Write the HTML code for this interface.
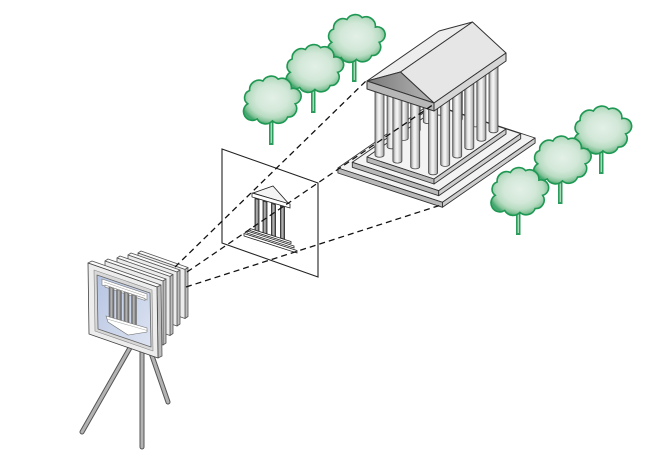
<!DOCTYPE html>
<html><head><meta charset="utf-8"><style>
html,body{margin:0;padding:0;background:#fff;}
svg{display:block;}
</style></head><body>
<svg width="653" height="476" viewBox="0 0 653 476" xmlns="http://www.w3.org/2000/svg">
<defs>
<radialGradient id="tg" cx="50%" cy="46%" r="55%">
<stop offset="0" stop-color="#e3f0e6"/><stop offset="0.5" stop-color="#d3e8d9"/><stop offset="0.75" stop-color="#b8dcc2"/><stop offset="0.9" stop-color="#86c49a"/><stop offset="1" stop-color="#45a870"/>
</radialGradient>
<linearGradient id="colg" x1="0" y1="0" x2="1" y2="0">
<stop offset="0" stop-color="#8a8a8a"/><stop offset="0.3" stop-color="#e6e6e6"/><stop offset="0.5" stop-color="#f6f6f6"/><stop offset="0.8" stop-color="#c2c2c2"/><stop offset="1" stop-color="#8e8e8e"/>
</linearGradient>
<linearGradient id="pedg" x1="0" y1="0" x2="1" y2="0">
<stop offset="0" stop-color="#7a7a7a"/><stop offset="1" stop-color="#b5b5b5"/>
</linearGradient>
<linearGradient id="blueg" x1="0" y1="0" x2="1" y2="1">
<stop offset="0" stop-color="#b6c4e2"/><stop offset="1" stop-color="#dde4f2"/>
</linearGradient>
<linearGradient id="scol" x1="0" y1="0" x2="1" y2="0">
<stop offset="0" stop-color="#555"/><stop offset="0.45" stop-color="#bbb"/><stop offset="1" stop-color="#555"/>
</linearGradient>
<g id="crown">
<path d="M -24,4 A 8,8 0 0 1 -22,-10 A 10,10 0 0 1 -8,-20 A 10,10 0 0 1 8,-22 A 10,10 0 0 1 22,-12 A 8,8 0 0 1 26,4 A 9,9 0 0 1 18,18 A 10,10 0 0 1 2,22 A 10,10 0 0 1 -14,20 A 9,9 0 0 1 -24,4 Z" fill="url(#tg)" stroke="#1e9852" stroke-width="1.7"/>
</g>
<g id="col">
<path d="M -4.5,-72 V 0 A 4.5,2 0 0 0 4.5,0 V -72 Z" fill="url(#colg)" stroke="#444" stroke-width="0.8"/>
</g>
</defs>

<!-- left trees -->
<g>
<rect x="352" y="55" width="4.5" height="27" fill="#2c9c5c"/><rect x="353.6" y="58" width="1.4" height="22" fill="#a6dab6"/>
<use href="#crown" transform="translate(354.5,38.5) scale(0.95)"/>
<rect x="311" y="85" width="4.5" height="28" fill="#2c9c5c"/><rect x="312.6" y="88" width="1.4" height="23" fill="#a6dab6"/>
<use href="#crown" transform="translate(313,68.5) scale(0.95)"/>
<rect x="269" y="117" width="4.5" height="28" fill="#2c9c5c"/><rect x="270.6" y="120" width="1.4" height="23" fill="#a6dab6"/>
<use href="#crown" transform="translate(270.5,100) scale(0.95)"/>
</g>

<!-- projection plane -->
<polygon points="222,149 318,183 318,277 222,243" fill="#fff" stroke="#222" stroke-width="1.1"/>

<!-- small temple -->
<g stroke="#222" stroke-width="0.8">
<polygon points="253,193 273,186 289,204" fill="#f4f4f4"/>
<polygon points="252,193 290,204 290,208 252,197" fill="#fff"/>
<g fill="url(#scol)">
<polygon points="255,198.5 259,199.7 259,231.7 255,230.5"/>
<polygon points="263,201 267,202.2 267,234.2 263,233"/>
<polygon points="271.5,203.5 275.5,204.7 275.5,236.7 271.5,235.5"/>
<polygon points="280.5,206 284.5,207.2 284.5,239.2 280.5,238"/>
</g>
<polygon points="250,228.5 291,241.5 291,243.5 250,230.5" fill="#fff"/>
<polygon points="247,231 294,246 294,248 247,233" fill="#fff"/>
<polygon points="244,233.5 297,250.5 297,253 244,236" fill="#fff"/>
</g>

<!-- big temple steps -->
<g stroke="#333" stroke-width="0.9" stroke-linejoin="round">
<polygon points="337.9,168 442.5,202.3 535.1,138 430.5,103.7" fill="#f3f3f3"/>
<polygon points="337.9,168 442.5,202.3 442.5,207.3 337.9,173" fill="#b9b9b9"/>
<polygon points="442.5,202.3 535.1,138 535.1,143 442.5,207.3" fill="#cdcdcd"/>
<polygon points="352.3,162.3 438.7,190.7 520.7,133.7 434.3,105.3" fill="#f3f3f3"/>
<polygon points="352.3,162.3 438.7,190.7 438.7,195.7 352.3,167.3" fill="#b9b9b9"/>
<polygon points="438.7,190.7 520.7,133.7 520.7,138.7 438.7,195.7" fill="#cdcdcd"/>
<polygon points="367,157 434,179 506,129 439,107" fill="#f3f3f3"/>
<polygon points="367,157 434,179 434,184 367,162" fill="#b9b9b9"/>
<polygon points="434,179 506,129 506,134 434,184" fill="#cdcdcd"/>
</g>

<!-- columns (back to front) -->
<use href="#col" transform="translate(439.9,113.2)"/>
<use href="#col" transform="translate(457.8,119.1)"/>
<use href="#col" transform="translate(427.8,121.6)"/>
<use href="#col" transform="translate(475.6,124.9)"/>
<use href="#col" transform="translate(415.7,130.0)"/>
<use href="#col" transform="translate(493.5,130.8)"/>
<use href="#col" transform="translate(403.7,138.4)"/>
<use href="#col" transform="translate(481.4,139.2)"/>
<use href="#col" transform="translate(391.6,146.8)"/>
<use href="#col" transform="translate(469.3,147.6)"/>
<use href="#col" transform="translate(379.5,155.2)"/>
<use href="#col" transform="translate(457.2,156.0)"/>
<use href="#col" transform="translate(397.4,161.1)"/>
<use href="#col" transform="translate(445.2,164.4)"/>
<use href="#col" transform="translate(415.2,166.9)"/>
<use href="#col" transform="translate(433.1,172.8)"/>

<!-- roof -->
<g stroke="#333" stroke-width="1" stroke-linejoin="round">
<polygon points="367,81 439,31 472.5,22 400.5,72" fill="#ededed"/>
<polygon points="400.5,72 472.5,22 506,53 434,103" fill="#e6e6e6"/>
<polygon points="367,81 400.5,72 434,103" fill="url(#pedg)"/>
<polygon points="367,81 434,103 434,111 367,89" fill="#b7b7b7"/>
<polygon points="434,103 506,53 506,61 434,111" fill="#d6d6d6"/>
</g>

<!-- right trees -->
<g>
<rect x="599" y="150" width="4.5" height="24" fill="#2c9c5c"/><rect x="600.6" y="153" width="1.4" height="19" fill="#a6dab6"/>
<use href="#crown" transform="translate(601,130) scale(0.95)"/>
<rect x="558" y="180" width="4.5" height="24" fill="#2c9c5c"/><rect x="559.6" y="183" width="1.4" height="19" fill="#a6dab6"/>
<use href="#crown" transform="translate(560.5,160) scale(0.95)"/>
<rect x="516" y="211" width="4.5" height="24" fill="#2c9c5c"/><rect x="517.6" y="214" width="1.4" height="19" fill="#a6dab6"/>
<use href="#crown" transform="translate(518,191.5) scale(0.95)"/>
</g>

<!-- tripod -->
<g stroke-linecap="round">
<line x1="131" y1="346" x2="82" y2="432" stroke="#555" stroke-width="5"/>
<line x1="131" y1="346" x2="82" y2="432" stroke="#b3b3b3" stroke-width="3"/>
<line x1="142" y1="350" x2="142" y2="447" stroke="#555" stroke-width="5"/>
<line x1="142" y1="350" x2="142" y2="447" stroke="#b3b3b3" stroke-width="3"/>
<line x1="150" y1="350" x2="168" y2="402" stroke="#555" stroke-width="5"/>
<line x1="150" y1="350" x2="168" y2="402" stroke="#b3b3b3" stroke-width="3"/>
</g>

<!-- camera bellows plates -->
<g stroke="#555" stroke-width="0.8" stroke-linejoin="round">
<polygon points="138,253 185,269.5 188,267.5 141,251" fill="#fafafa"/>
<polygon points="185,269.5 188,267.5 188,316.5 185,318.5" fill="#bdbdbd"/>
<polygon points="138,253 185,269.5 185,318.5 138,302" fill="#ececec"/>
<polygon points="128,255 177,272 180,270 131,253" fill="#fafafa"/>
<polygon points="177,272 180,270 180,324 177,326" fill="#bdbdbd"/>
<polygon points="128,255 177,272 177,326 128,309" fill="#ececec"/>
<polygon points="117,258 170,276.5 173,274.5 120,256" fill="#fafafa"/>
<polygon points="170,276.5 173,274.5 173,333.5 170,335.5" fill="#bdbdbd"/>
<polygon points="117,258 170,276.5 170,335.5 117,317" fill="#ececec"/>
<polygon points="105,261 163,281 166,279 108,259" fill="#fafafa"/>
<polygon points="163,281 166,279 166,343 163,345" fill="#bdbdbd"/>
<polygon points="105,261 163,281 163,345 105,325" fill="#ececec"/>
<!-- front frame -->
<polygon points="88,263 157,287 161,285 92,261" fill="#fafafa"/>
<polygon points="157,287 161,285 162,356 158,358" fill="#bdbdbd"/>
<polygon points="88,263 157,287 158,358 89,334" fill="#ededed" stroke="#444"/>
<polygon points="94,270 152,290 153,351 95,331" fill="#d8d8d8" stroke="#888" stroke-width="0.6"/>
<polygon points="97,275 150,293 151,347 98,329" fill="url(#blueg)" stroke="#666"/>
</g>
<!-- inverted temple in camera -->
<g stroke="#777" stroke-width="0.6">
<polygon points="102,279 147,294 147,300 102,285" fill="#fff"/>
<line x1="104" y1="282" x2="145" y2="296" stroke="#aaa"/>
<polygon points="105,285 145,298.5 145,300.5 105,287" fill="#f4f4f4"/>
<polygon points="109,287 114,288.7 114,319.7 109,318" fill="url(#scol)"/>
<polygon points="116.5,289.6 121.5,291.3 121.5,322.3 116.5,320.6" fill="url(#scol)"/>
<polygon points="124,292.1 129,293.8 129,324.8 124,323.1" fill="url(#scol)"/>
<polygon points="131.5,294.7 136.5,296.4 136.5,327.4 131.5,325.7" fill="url(#scol)"/>
<polygon points="106,316 147,328 147,332 128,335 108,322" fill="#fff"/>
<line x1="107" y1="319" x2="147" y2="330.5" stroke="#aaa"/>
</g>

<!-- dashed projection lines -->
<g stroke="#111" stroke-width="1.3" stroke-dasharray="6 4" fill="none">
<line x1="175" y1="267" x2="367" y2="80"/>
<line x1="187" y1="272" x2="434" y2="104"/>
<line x1="186" y1="287" x2="441" y2="205"/>
</g>
</svg>
</body></html>
